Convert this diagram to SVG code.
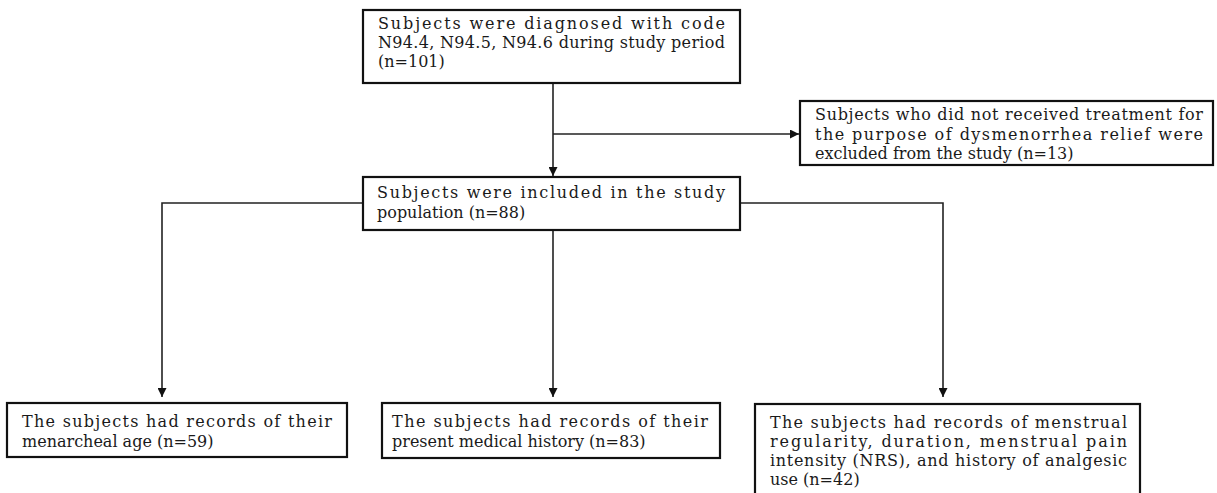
<svg xmlns="http://www.w3.org/2000/svg" width="1217" height="493" viewBox="0 0 1217 493">
<defs>
<style>
.box{fill:#fff;stroke:#111;stroke-width:2.2}
.t{font-family:"DejaVu Serif","Liberation Serif",serif;font-size:16px;fill:#1a1a1a}
.c{fill:none;stroke:#222;stroke-width:1.6}
</style>
<marker id="ah" viewBox="0 0 10 10" refX="10" refY="5" markerWidth="9" markerHeight="9" markerUnits="userSpaceOnUse" orient="auto">
<path d="M0,0 L10,5 L0,10 z" fill="#111"/>
</marker>
</defs>
<g id="connectors">
<path class="c" d="M553,83 V176" marker-end="url(#ah)"/>
<path class="c" d="M553,134 H799" marker-end="url(#ah)"/>
<path class="c" d="M363,203 H162 V397" marker-end="url(#ah)"/>
<path class="c" d="M553,230 V397" marker-end="url(#ah)"/>
<path class="c" d="M740,203 H943 V397" marker-end="url(#ah)"/>
</g>
<g id="n1">
<rect class="box" x="363" y="10" width="377" height="73"/>
<text class="t" x="378" y="29" textLength="347" lengthAdjust="spacing">Subjects were diagnosed with code</text>
<text class="t" x="378" y="48" textLength="347" lengthAdjust="spacing">N94.4, N94.5, N94.6 during study period</text>
<text class="t" x="378" y="67">(n=101)</text>
</g>
<g id="n2">
<rect class="box" x="800" y="101" width="413" height="64"/>
<text class="t" x="815" y="120" textLength="388" lengthAdjust="spacing">Subjects who did not received treatment for</text>
<text class="t" x="815" y="140" textLength="388" lengthAdjust="spacing">the purpose of dysmenorrhea relief were</text>
<text class="t" x="815" y="159">excluded from the study (n=13)</text>
</g>
<g id="n3">
<rect class="box" x="363" y="177" width="377" height="53"/>
<text class="t" x="377" y="198" textLength="348" lengthAdjust="spacing">Subjects were included in the study</text>
<text class="t" x="377" y="218">population (n=88)</text>
</g>
<g id="n4">
<rect class="box" x="7" y="403" width="340" height="54"/>
<text class="t" x="22" y="427" textLength="310" lengthAdjust="spacing">The subjects had records of their</text>
<text class="t" x="22" y="447">menarcheal age (n=59)</text>
</g>
<g id="n5">
<rect class="box" x="382" y="403" width="338" height="55"/>
<text class="t" x="392" y="427" textLength="316" lengthAdjust="spacing">The subjects had records of their</text>
<text class="t" x="392" y="447">present medical history (n=83)</text>
</g>
<g id="n6">
<rect class="box" x="755" y="404" width="385" height="100"/>
<text class="t" x="770" y="428" textLength="357" lengthAdjust="spacing">The subjects had records of menstrual</text>
<text class="t" x="770" y="447" textLength="357" lengthAdjust="spacing">regularity, duration, menstrual pain</text>
<text class="t" x="770" y="466" textLength="357" lengthAdjust="spacing">intensity (NRS), and history of analgesic</text>
<text class="t" x="770" y="485">use (n=42)</text>
</g>
</svg>
